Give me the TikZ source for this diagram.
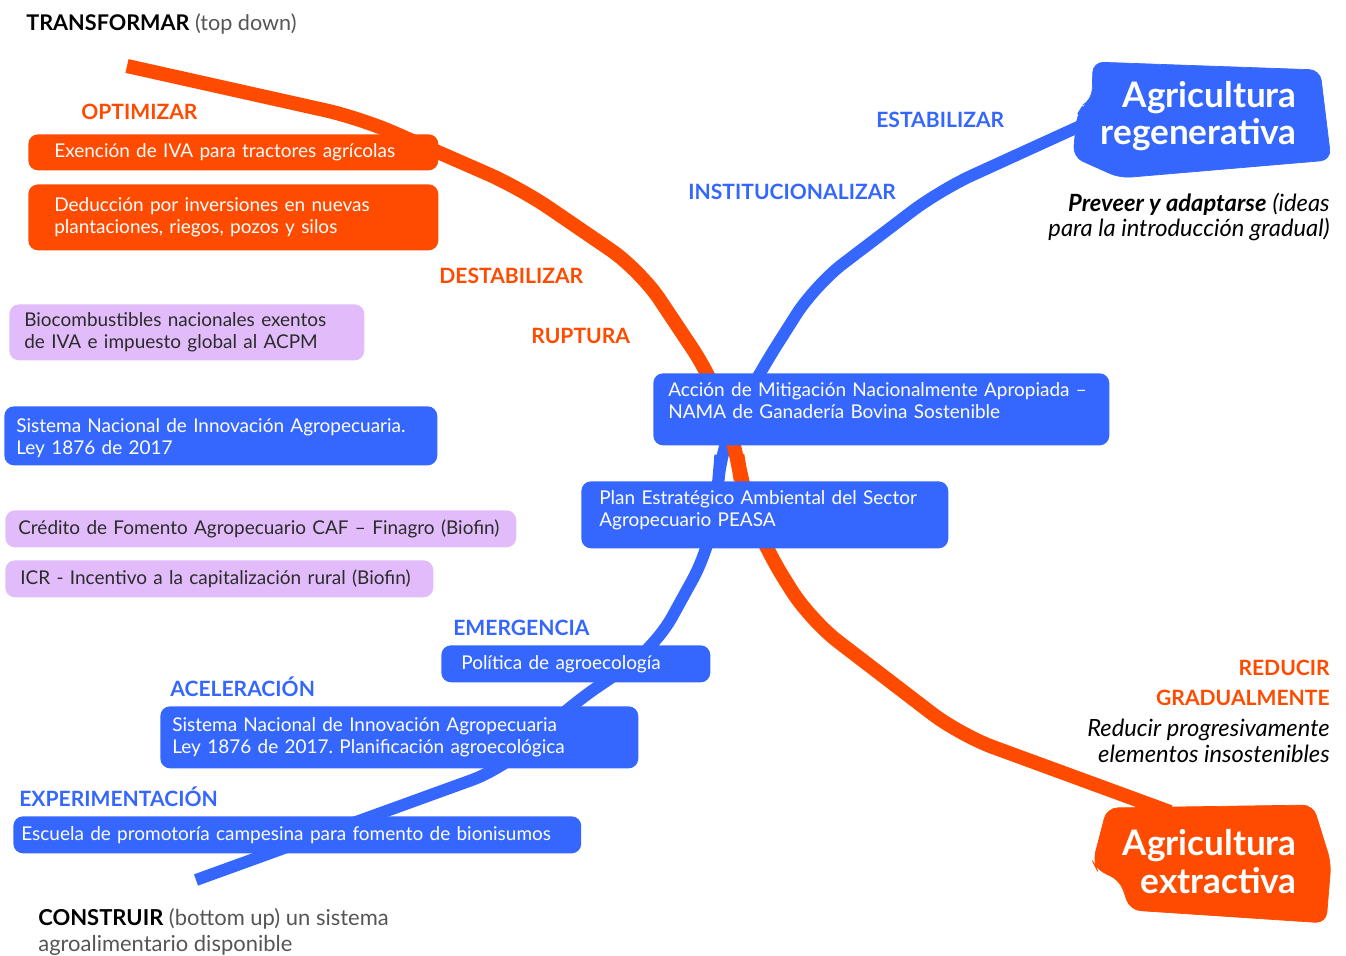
\documentclass[tikz,border=0pt]{standalone}
\usepackage{fontspec}
\setmainfont{Lato}
\frenchspacing
\definecolor{naranja}{HTML}{FF4B00}
\definecolor{azul}{HTML}{3567FF}
\definecolor{lila}{HTML}{E2BCFA}
\definecolor{tinta}{HTML}{2B2B2B}
\begin{document}
\begin{tikzpicture}[x=0.02cm, y=-0.02cm]
		\tikzset{
			caja/.style = {rectangle, rounded corners=5.5pt, anchor=north west, inner ysep=2pt,
					align=left, font=\fontsize{10.8}{12.5}\selectfont},
			caja naranja/.style = {caja, fill=naranja, text=white},
			caja azul/.style = {caja, fill=azul, text=white},
			caja lila/.style = {caja, fill=lila, text=tinta},
			etiqueta/.style = {anchor=base west, inner sep=0pt, font=\fontsize{12}{13}\selectfont\bfseries},
			polo/.style = {rounded corners=6pt},
			titulo/.style = {align=right, inner sep=0pt, anchor=base east, text=white,
					font=\fontsize{20}{21.5}\selectfont\bfseries},
			nota/.style = {inner sep=0pt, font=\fontsize{13.5}{14.7}\selectfont}
		}
		\useasboundingbox (0,0) rectangle (1346,956);

		\draw[azul, line width=6.8pt, rounded corners=20pt]
			(1100,117) -- (940,190) -- (815,285) -- (758,375) -- (721,445) -- (718,490)
			-- (710,548) -- (655,648) -- (568,707) -- (505,768) -- (196,880);
		\draw[naranja, line width=8pt, rounded corners=20pt]
			(127,66) -- (360,118) -- (520,188) -- (640,270) -- (712,378) -- (736,445)
			-- (742,490) -- (765,548) -- (810,620) -- (960,735) -- (1170,812);

		\filldraw[azul, polo] (1093,62) -- (1320,70) -- (1331,160) -- (1120,178) -- (1073,157)
			-- (1077,115) -- (1083,105) -- (1092,100) -- cycle;
		\filldraw[naranja, polo] (1107,808) -- (1313,805) -- (1331,863) -- (1326,923) -- (1130,910)
			-- (1120,880) -- (1097,870) -- (1093,862) -- cycle;
		\node[titulo] (regenerativa) at (1297,145) {Agricultura\\regenerativa};
		\node[titulo] (extractiva) at (1297,893) {Agricultura\\extractiva};

		\node[caja naranja, text width=7.16cm, minimum height=0.72cm, inner xsep=0.52cm] (exencion) at (28,134)
			{Exención de IVA para tractores agrícolas};
		\node[caja naranja, text width=7.16cm, minimum height=1.32cm, inner xsep=0.52cm] (deduccion) at (28,184)
			{Deducción por inversiones en nuevas\\plantaciones, riegos, pozos y silos};
		\node[caja lila, text width=6.5cm, minimum height=1.12cm, inner xsep=0.3cm] (biocombustibles) at (9,304)
			{Biocombustibles nacionales exentos\\de IVA e impuesto global al ACPM};
		\node[caja azul, text width=8.18cm, minimum height=1.18cm, inner xsep=0.24cm, text depth=12pt] (snialey) at (4,406)
			{Sistema Nacional de Innovación Agropecuaria.\\Ley 1876 de 2017};
		\node[caja lila, text width=9.7cm, minimum height=0.74cm, inner xsep=0.26cm] (credito) at (5,510)
			{Crédito de Fomento Agropecuario CAF – Finagro (Biofin)};
		\node[caja lila, text width=7.96cm, minimum height=0.74cm, inner xsep=0.3cm] (icr) at (5,560)
			{ICR - Incentivo a la capitalización rural (Biofin)};
		\node[caja azul, text width=8.52cm, minimum height=1.44cm, inner xsep=0.3cm, text depth=23pt] (nama) at (653,373)
			{Acción de Mitigación Nacionalmente Apropiada –\\NAMA de Ganadería Bovina Sostenible};
		\node[caja azul, text width=6.62cm, minimum height=1.34cm, inner xsep=0.36cm, text depth=19.5pt] (peasa) at (581,481)
			{Plan Estratégico Ambiental del Sector\\Agropecuario PEASA};
		\node[caja azul, text width=4.58cm, minimum height=0.74cm, inner xsep=0.4cm] (politica) at (441,645)
			{Política de agroecología};
		\node[caja azul, text width=9.08cm, minimum height=1.24cm, inner xsep=0.24cm] (snia) at (160,706)
			{Sistema Nacional de Innovación Agropecuaria\\Ley 1876 de 2017. Planificación agroecológica};
		\node[caja azul, text width=11.04cm, minimum height=0.74cm, inner xsep=0.16cm] (escuela) at (13,816)
			{Escuela de promotoría campesina para fomento de bionisumos};

		\node[etiqueta, naranja] (optimizar) at (81,120) {OPTIMIZAR};
		\node[etiqueta, naranja] (destabilizar) at (439,284) {DESTABILIZAR};
		\node[etiqueta, naranja] (ruptura) at (531,343) {RUPTURA};
		\node[etiqueta, azul] (estabilizar) at (876,128) {ESTABILIZAR};
		\node[etiqueta, azul] (institucionalizar) at (688,200) {INSTITUCIONALIZAR};
		\node[etiqueta, azul] (emergencia) at (453,635) {EMERGENCIA};
		\node[etiqueta, azul] (aceleracion) at (170,696) {ACELERACIÓN};
		\node[etiqueta, azul] (experimentacion) at (19,806) {EXPERIMENTACIÓN};
		\node[etiqueta, naranja, anchor=base east] (reducir) at (1330,675) {REDUCIR};
		\node[etiqueta, naranja, anchor=base east] (gradualmente) at (1330,705) {GRADUALMENTE};

		\node[nota, anchor=base west, font=\fontsize{12.3}{14}\selectfont, text=tinta!80] (transformar) at (26,31)
			{\textbf{\color{black}TRANSFORMAR} (top down)};
		\node[nota, anchor=base east, align=right, text=black] (preveer) at (1330,237)
			{\textbf{\textit{Preveer y adaptarse}} \textit{(ideas}\\\textit{para la introducción gradual)}};
		\node[nota, anchor=base east, align=right, text=black] (progresivamente) at (1330,762)
			{\textit{Reducir progresivamente}\\\textit{elementos insostenibles}};
		\node[nota, anchor=base west, align=left, text=tinta!80, font=\fontsize{12.5}{14.7}\selectfont] (construir) at (38,951)
			{\textbf{\color{black}CONSTRUIR} (bottom up) un sistema\\agroalimentario disponible};
	\end{tikzpicture}
\end{document}
